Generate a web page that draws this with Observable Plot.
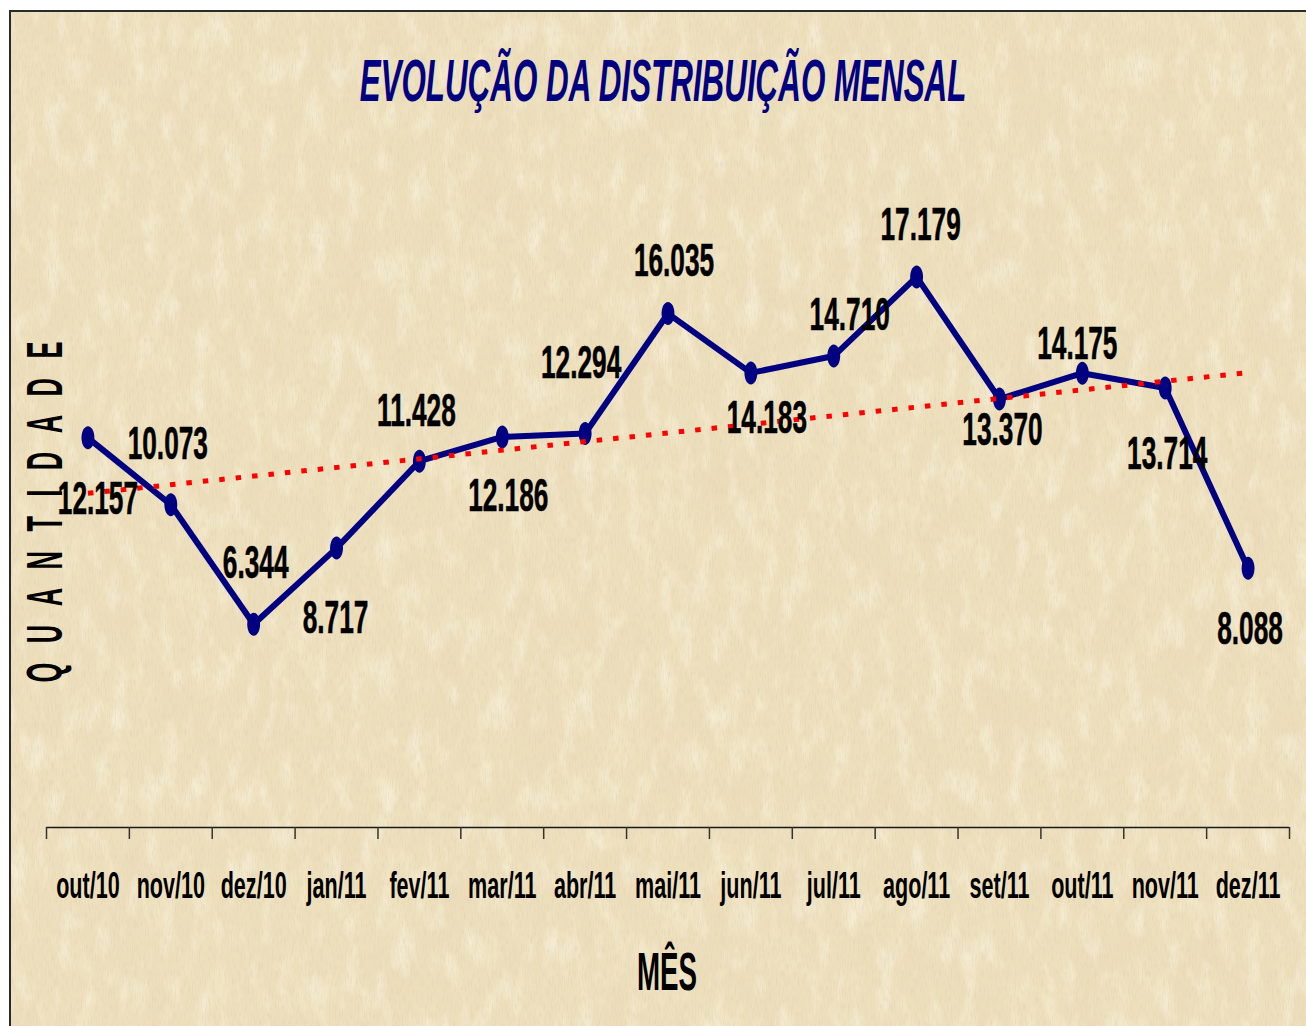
<!DOCTYPE html>
<html>
<head>
<meta charset="utf-8">
<script src="https://cdn.jsdelivr.net/npm/d3@7"></script>
<script src="https://cdn.jsdelivr.net/npm/@observablehq/plot@0.6"></script>
<style>
  html, body { margin: 0; padding: 0; background: #ffffff; }
  #wrap { position: relative; width: 1306px; height: 1026px; overflow: hidden; }
  #frame { position: absolute; left: 9px; top: 10px; width: 1320px; height: 1040px;
           border-left: 2px solid #2a2a2a; border-top: 2px solid #2a2a2a; box-sizing: border-box; overflow: hidden; }
  #bg { position: absolute; left: 0; top: 0; }
  #chart { position: absolute; left: 0; top: 0; }
  #chart svg { overflow: visible; }
</style>
</head>
<body>
<div id="wrap">
  <div id="frame">
    <svg id="bg" width="1320" height="1040">
      <defs>
        <filter id="dark" x="0" y="0" width="100%" height="100%">
          <feTurbulence type="fractalNoise" baseFrequency="0.022 0.012" numOctaves="4" seed="7"/>
          <feColorMatrix type="matrix" values="0 0 0 0 0.82  0 0 0 0 0.68  0 0 0 0 0.47  1.2 0 0 0 -0.56"/>
        </filter>
        <filter id="light" x="0" y="0" width="100%" height="100%">
          <feTurbulence type="fractalNoise" baseFrequency="0.06 0.025" numOctaves="3" seed="21"/>
          <feColorMatrix type="matrix" values="0 0 0 0 0.98  0 0 0 0 0.94  0 0 0 0 0.82  1.3 0 0 0 -0.62"/>
        </filter>
        <filter id="grain" x="0" y="0" width="100%" height="100%">
          <feTurbulence type="fractalNoise" baseFrequency="0.7 0.12" numOctaves="2" seed="3"/>
          <feColorMatrix type="matrix" values="0 0 0 0 0.72  0 0 0 0 0.62  0 0 0 0 0.45  1.2 0 0 0 -0.55"/>
        </filter>
      </defs>
      <rect width="1320" height="1040" fill="#eee0bc"/>
      <rect width="1320" height="1040" filter="url(#dark)"/>
      <rect width="1320" height="1040" filter="url(#light)"/>
      <rect width="1320" height="1040" filter="url(#grain)"/>
    </svg>
  </div>
  <div id="chart"></div>
</div>
<script>
// ---- data ----
const meses = ["out/10","nov/10","dez/10","jan/11","fev/11","mar/11","abr/11","mai/11","jun/11","jul/11","ago/11","set/11","out/11","nov/11","dez/11"];
const quantidades = [12157, 10073, 6344, 8717, 11428, 12186, 12294, 16035, 14183, 14710, 17179, 13370, 14175, 13714, 8088];
const dominioY = [0, 20000];
const titulo = "EVOLUÇÃO DA DISTRIBUIÇÃO MENSAL";
const tituloX = "MÊS";
const tituloY = "Q U A N T I D A D E";

// ---- layout (label placement offsets, in pixels) ----
const labelDx = [10, -3, 2, -1, -3, 6, -4, 6, 16, 16, 4, 3, -5, 2, 2];
const labelDy = [61, -60, -61, 70, -50, 59, -70, -52, 45, -41, -52, 31, -29, 66, 61];

const fmt = d3.formatLocale({decimal: ",", thousands: ".", grouping: [3], currency: ["R$", ""]}).format(",d");
const idx = meses.map((_, i) => i);
const fronteiras = d3.range(-0.5, meses.length, 1);

const ellipse = {
  draw(ctx, size) {
    const r = Math.sqrt(size / Math.PI);
    const rx = r * 0.56, ry = r, k = 0.5522847498;
    ctx.moveTo(rx, 0);
    ctx.bezierCurveTo(rx, k * ry, k * rx, ry, 0, ry);
    ctx.bezierCurveTo(-k * rx, ry, -rx, k * ry, -rx, 0);
    ctx.bezierCurveTo(-rx, -k * ry, -k * rx, -ry, 0, -ry);
    ctx.bezierCurveTo(k * rx, -ry, rx, -k * ry, rx, 0);
    ctx.closePath();
  }
};

const font = "'Liberation Sans', Arial, Helvetica, sans-serif";

const chart = Plot.plot({
  width: 1306,
  height: 1026,
  marginLeft: 46,
  marginRight: 17,
  marginTop: 186,
  marginBottom: 199,
  style: {background: "transparent", fontFamily: font, overflow: "visible"},
  x: {type: "linear", domain: [-0.5, meses.length - 0.5]},
  y: {domain: dominioY, axis: null},
  marks: [
    Plot.ruleY([0], {stroke: "#1a1a1a", strokeWidth: 1.5}),
    Plot.axisX({ticks: fronteiras, tickFormat: () => "", tickSize: 12, stroke: "#333", strokeWidth: 1.5, label: null}),
    Plot.text(idx, {x: d => d, text: d => meses[d], frameAnchor: "bottom", dy: 70,
      fontSize: 26, fontWeight: "bold", fill: "#000", textAnchor: "middle", ariaLabel: () => "mes"}),
    Plot.line(idx, {x: d => d, y: d => quantidades[d], stroke: "#000080", strokeWidth: 6,
      strokeLinejoin: "round", strokeLinecap: "round"}),
    Plot.dot(idx, {x: d => d, y: d => quantidades[d], symbol: ellipse, r: 11.5, fill: "#000080", stroke: "none"}),
    Plot.linearRegressionY(idx, {x: d => d, y: d => quantidades[d], ci: 0, stroke: "#ff0000",
      strokeWidth: 5, strokeDasharray: "5.5,11", strokeLinecap: "butt"}),
    ...idx.map(i => Plot.text([i], {x: d => d, y: d => quantidades[d], text: d => fmt(quantidades[d]),
      dx: labelDx[i], dy: labelDy[i], fontSize: 32, fontWeight: "bold", fill: "#000",
      stroke: "#000", strokeWidth: 0.4,
      textAnchor: "middle", ariaLabel: () => "rotulo"}))
  ]
});

const svg = d3.select(chart);
function squeeze(sel, sx, sy) {
  svg.selectAll(sel).each(function() {
    let t = this.getAttribute("transform") || "";
    const x = this.getAttribute("x"), y = this.getAttribute("y");
    if (!/translate/.test(t)) {
      const tx = x && !/em$/.test(x) ? +x : 0;
      const ty = y && !/em$/.test(y) ? +y : 0;
      if (x && !/em$/.test(x)) this.removeAttribute("x");
      if (y && !/em$/.test(y)) this.removeAttribute("y");
      t = `translate(${tx},${ty}) ` + t;
    }
    this.setAttribute("transform", t + ` scale(${sx},${sy})`);
  });
}
squeeze('text[aria-label="rotulo"]', 0.82, 1.44);
squeeze('text[aria-label="mes"]', 0.83, 1.45);

// title
svg.append("text")
  .attr("transform", "translate(663,101) scale(0.784,1.467)")
  .attr("text-anchor", "middle")
  .attr("font-family", font)
  .attr("font-weight", "bold")
  .attr("font-style", "italic")
  .attr("font-size", 40)
  .attr("fill", "#000080")
  .text(titulo);

// x title
svg.append("text")
  .attr("transform", "translate(667,990) scale(0.77,1.51)")
  .attr("text-anchor", "middle")
  .attr("font-family", font)
  .attr("font-weight", "bold")
  .attr("font-size", 36)
  .attr("fill", "#000")
  .text(tituloX);

// y title
svg.append("text")
  .attr("transform", "translate(62,512) rotate(-90) scale(0.85,1.68)")
  .attr("text-anchor", "middle")
  .attr("font-family", font)
  .attr("font-weight", "bold")
  .attr("font-size", 30)
  .attr("fill", "#000")
  .attr("textLength", 401)
  .attr("lengthAdjust", "spacing")
  .text(tituloY);

document.getElementById("chart").appendChild(chart);
</script>
</body>
</html>
